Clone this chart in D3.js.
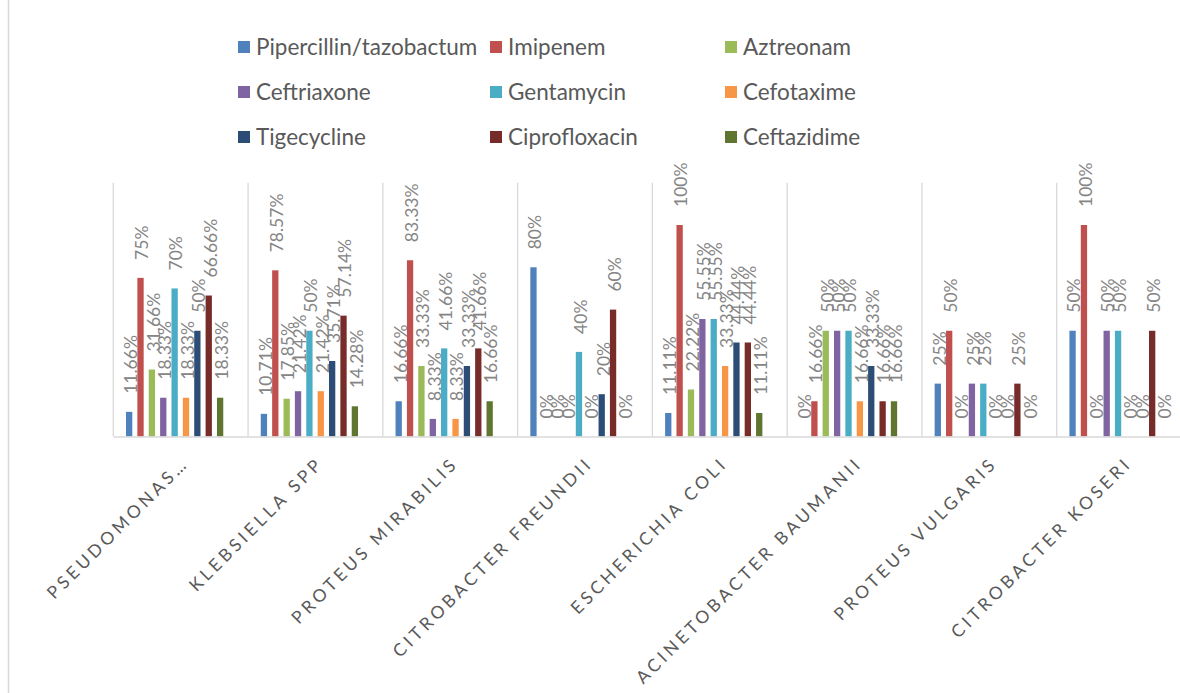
<!DOCTYPE html>
<html>
<head>
<meta charset="utf-8">
<script src="https://cdn.jsdelivr.net/npm/d3@7/dist/d3.min.js"></script>
<style>
  html, body { margin: 0; padding: 0; background: #ffffff; }
  svg { display: block; }
</style>
</head>
<body>
<svg id="chart" width="1180" height="693"></svg>
<script>
// Organisms on the category axis
const categories = [
  "Pseudomonas…", "Klebsiella spp", "Proteus mirabilis", "Citrobacter freundii",
  "Escherichia coli", "Acinetobacter baumanii", "Proteus vulgaris", "Citrobacter koseri"
];

// Antibiotic series names (legend order)
const seriesNames = [
  "Pipercillin/tazobactum", "Imipenem", "Aztreonam",
  "Ceftriaxone", "Gentamycin", "Cefotaxime",
  "Tigecycline", "Ciprofloxacin", "Ceftazidime"
];

// Percentages per organism, one array per antibiotic
const piperacillin  = [11.66, 10.71, 16.66, 80, 11.11, 0, 25, 50];
const imipenem      = [75, 78.57, 83.33, 0, 100, 16.66, 50, 100];
const aztreonam     = [31.66, 17.85, 33.33, 0, 22.22, 50, 0, 0];
const ceftriaxone   = [18.33, 21.42, 8.33, 0, 55.55, 50, 25, 50];
const gentamycin    = [70, 50, 41.66, 40, 55.55, 50, 25, 50];
const cefotaxime    = [18.33, 21.42, 8.33, 0, 33.33, 16.66, 0, 0];
const tigecycline   = [50, 35.71, 33.33, 20, 44.44, 33.33, 0, 0];
const ciprofloxacin = [66.66, 57.14, 41.66, 60, 44.44, 16.66, 25, 50];
const ceftazidime   = [18.33, 14.28, 16.66, 0, 11.11, 16.66, 0, 0];

const seriesValues = [
  piperacillin, imipenem, aztreonam, ceftriaxone, gentamycin,
  cefotaxime, tigecycline, ciprofloxacin, ceftazidime
];

const colors = [
  "#4F81BD", "#C0504D", "#9BBB59", "#8064A2", "#4BACC6",
  "#F79646", "#2C4D75", "#772C2A", "#5F7530"
];

const svg = d3.select("#chart");
const FONT = "Lato, 'Open Sans', sans-serif";

// Outer frame edge on the left
svg.append("line")
  .attr("x1", 8.5).attr("x2", 8.5).attr("y1", 0).attr("y2", 693)
  .attr("stroke", "#d9d9d9").attr("stroke-width", 1.5);

const plot = { left: 113.3, right: 1191.5, top: 182.7, bottom: 436.5 };

const x0 = d3.scaleBand()
  .domain(categories)
  .range([plot.left, plot.right])
  .paddingInner(0).paddingOuter(0);

const x1 = d3.scaleBand()
  .domain(seriesNames)
  .range([12.7, 109.96])
  .paddingInner(0.446).paddingOuter(0);

const y = d3.scaleLinear().domain([0, 120]).range([plot.bottom, plot.top]);

// Vertical gridlines at category boundaries
const bounds = categories.map(c => x0(c)).concat([plot.right]);
svg.append("g").selectAll("line").data(bounds).join("line")
  .attr("x1", d => d).attr("x2", d => d)
  .attr("y1", plot.top).attr("y2", plot.bottom)
  .attr("stroke", "#d9d9d9").attr("stroke-width", 1.3);

// Bars
const groups = svg.append("g").selectAll("g").data(categories).join("g")
  .attr("transform", c => `translate(${x0(c)},0)`);

const cells = groups.selectAll("g.cell")
  .data((c, ci) => seriesNames.map((s, si) => ({ s, si, v: seriesValues[si][ci] })))
  .join("g").attr("class", "cell");

cells.append("rect")
  .attr("x", d => x1(d.s))
  .attr("width", x1.bandwidth())
  .attr("y", d => y(d.v))
  .attr("height", d => y(0) - y(d.v))
  .attr("fill", d => colors[d.si]);

// Rotated value labels above each bar
cells.append("text")
  .attr("transform", d => `translate(${x1(d.s) + x1.bandwidth() / 2 + 1.5},${y(d.v) - 18}) rotate(-90)`)
  .attr("dy", "0.36em")
  .attr("text-anchor", "start")
  .attr("font-family", FONT)
  .attr("font-size", 17.5)
  .attr("fill", "#858585")
  .text(d => d.v + "%");

// Category axis
const xAxis = d3.axisBottom(x0).tickSizeInner(0).tickSizeOuter(0);
const axisG = svg.append("g")
  .attr("transform", `translate(0,${plot.bottom})`)
  .call(xAxis);
axisG.select(".domain").attr("stroke", "#d9d9d9").attr("stroke-width", 1.5);
axisG.selectAll(".tick text")
  .attr("x", 0).attr("y", 0).attr("dy", 0)
  .attr("transform", "translate(9,28) rotate(-45)")
  .attr("text-anchor", "end")
  .attr("font-family", FONT)
  .attr("font-size", 17.5)
  .attr("letter-spacing", "3.6px")
  .attr("fill", "#595959")
  .text(d => d.toUpperCase());

// Legend: three columns, three rows
const legendCols = [238, 490, 725];
const legendRows = [47, 92, 137];
const legend = svg.append("g").selectAll("g").data(seriesNames).join("g")
  .attr("transform", (d, i) => `translate(${legendCols[i % 3]},${legendRows[Math.floor(i / 3)]})`);
legend.append("rect")
  .attr("x", 0).attr("y", -6).attr("width", 12).attr("height", 12)
  .attr("fill", (d, i) => colors[i]);
legend.append("text")
  .attr("x", 18).attr("y", 0).attr("dy", "0.35em")
  .attr("font-family", FONT)
  .attr("font-size", 22.5)
  .attr("fill", "#595959")
  .text(d => d);
</script>
</body>
</html>
